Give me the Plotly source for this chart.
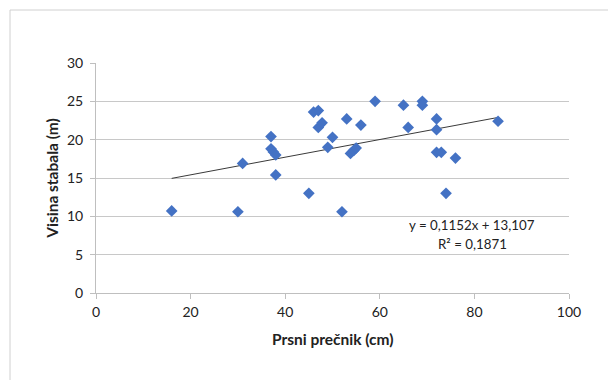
import plotly.graph_objects as go

# Breast-height diameter (cm) and tree height (m)
diameter_cm = [16, 30, 31, 37, 37, 37.5, 38, 38, 45, 46, 47, 47, 47.8, 49, 50,
               52, 53, 53.8, 54.5, 55, 56, 59, 65, 66, 69, 69, 72, 72, 72, 73,
               74, 76, 85]
height_m = [10.7, 10.6, 16.9, 20.4, 18.8, 18.4, 18.0, 15.4, 13.0, 23.6, 23.8,
            21.6, 22.2, 19.0, 20.3, 10.6, 22.7, 18.2, 18.6, 18.9, 21.9, 25.0,
            24.5, 21.6, 25.0, 24.5, 22.7, 21.3, 18.35, 18.35, 13.0, 17.6, 22.4]

# Linear trend coefficients
slope = 0.1152
intercept = 13.107
r_squared = 0.1871

x_ticks = [0, 20, 40, 60, 80, 100]
y_ticks = [0, 5, 10, 15, 20, 25, 30]

trend_x = [min(diameter_cm), max(diameter_cm)]
trend_y = [slope * v + intercept for v in trend_x]

FONT = "Lato, 'Open Sans', sans-serif"
TEXT = "#222"

fig = go.Figure()
fig.add_trace(go.Scatter(
    x=trend_x, y=trend_y, mode="lines",
    line=dict(color="#3a3a3a", width=1), hoverinfo="skip", showlegend=False,
))
fig.add_trace(go.Scatter(
    x=diameter_cm, y=height_m, mode="markers",
    marker=dict(symbol="diamond", size=9, color="#4472C4"),
    showlegend=False,
))

fig.update_layout(
    width=608, height=380,
    margin=dict(l=96, r=39, t=63, b=87),
    paper_bgcolor="white", plot_bgcolor="white",
    font=dict(family=FONT, size=14, color=TEXT),
    xaxis=dict(
        range=[0, 100], tickvals=x_ticks, showgrid=False,
        showline=True, linecolor="#bfbfbf", linewidth=1,
        ticks="outside", ticklen=5, tickcolor="#bfbfbf",
        ticklabelstandoff=1,
        zeroline=False, fixedrange=True,
    ),
    yaxis=dict(
        range=[0, 30], tickvals=y_ticks, showgrid=True,
        gridcolor="#c8c8c8", gridwidth=1,
        showline=True, linecolor="#bfbfbf", linewidth=1,
        ticks="outside", ticklen=5, tickcolor="#bfbfbf",
        ticklabelstandoff=4,
        zeroline=False, fixedrange=True, automargin=True,
        title=dict(text="<b>Visina stabala (m)</b>", standoff=4,
                   font=dict(family=FONT, size=15.5, color=TEXT)),
    ),
)

# Pixel -> paper helpers for the 473x230 plot area
plot_w, plot_h = 473, 230
def px_x(p):
    return (p - 96) / plot_w
def px_y(p):
    return (293 - p) / plot_h

def fmt(v):
    return f"{v}".replace(".", ",")

def label(px, py, text, size):
    fig.add_annotation(x=px_x(px), y=px_y(py), xref="paper", yref="paper",
                       xanchor="center", yanchor="middle", showarrow=False,
                       text=text, font=dict(family=FONT, size=size, color=TEXT))

# Equation and R², x-axis title
label(472, 225, f"y = {fmt(slope)}x + {fmt(intercept)}", 13.3)
label(472, 244, f"R² = {fmt(r_squared)}", 13.3)
label(333, 339, "<b>Prsni prečnik (cm)</b>", 15.5)

# Outer chart frame
fig.add_shape(type="line", xref="paper", yref="paper",
              x0=px_x(10), x1=px_x(10), y0=px_y(400), y1=px_y(10),
              line=dict(color="#d0d0d0", width=1))
fig.add_shape(type="line", xref="paper", yref="paper",
              x0=px_x(10), x1=px_x(620), y0=px_y(10), y1=px_y(10),
              line=dict(color="#d0d0d0", width=1))

fig.write_html("out.html")
